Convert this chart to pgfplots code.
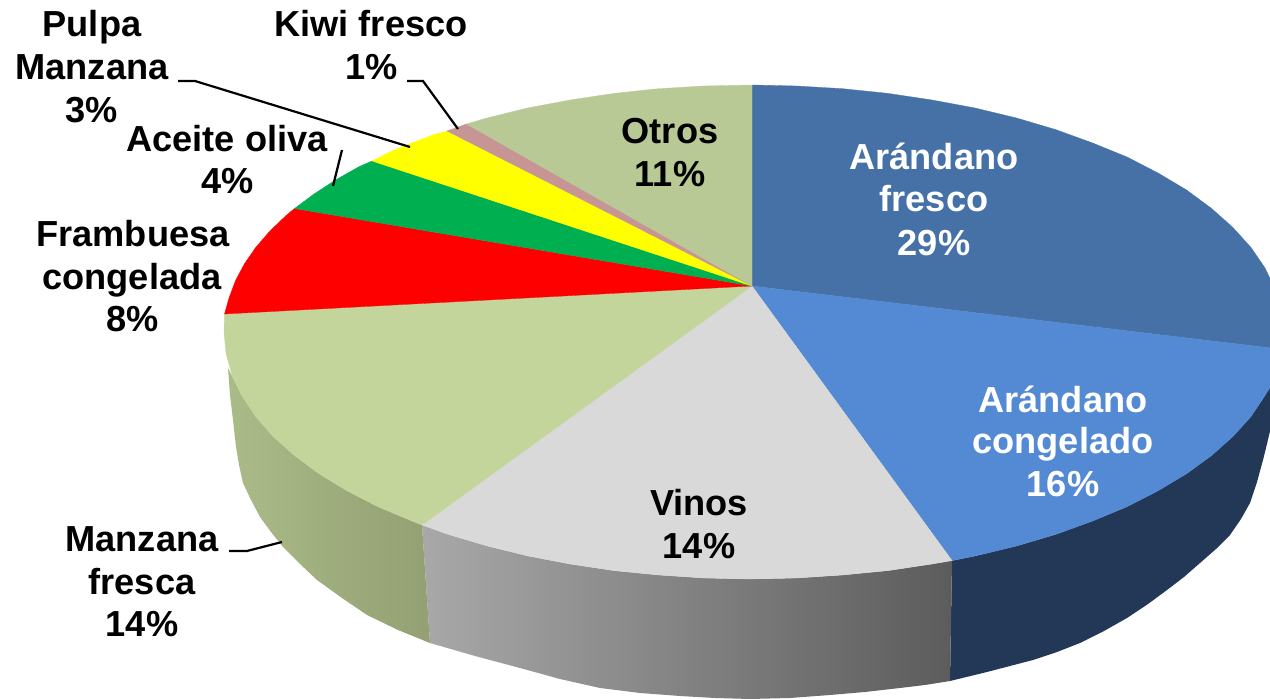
\documentclass[border=0pt]{standalone}
\usepackage{pgfplots}
\pgfplotsset{compat=1.18}
\usepackage{fontspec}
\setmainfont{Liberation Sans}
\definecolor{cFresco}{HTML}{4571A6}
\definecolor{cCong}{HTML}{538AD3}
\definecolor{cOtros}{HTML}{B9C995}
\definecolor{cManz}{HTML}{C3D59B}
\definecolor{cKiwi}{HTML}{C89595}
\definecolor{cGreen}{HTML}{00B050}
\definecolor{cVinos}{HTML}{D9D9D9}
\definecolor{cNavy}{HTML}{233857}
\definecolor{cSideA}{HTML}{ABBB88}
\definecolor{cSideB}{HTML}{93A073}
\definecolor{cYellow}{HTML}{FFFF00}
\definecolor{cRed}{HTML}{FF0000}
\newcommand{\lab}[4]{\node[anchor=base,inner sep=0pt,text=#4,font=\fontsize{18.1}{20}\selectfont\bfseries] at (axis cs:#1,#2) {#3};}
\begin{document}
\begin{tikzpicture}
\begin{axis}[
  scale only axis, width=635pt, height=349.5pt,
  xmin=0, xmax=1270, ymin=0, ymax=699, y dir=reverse,
  hide axis, no markers, clip mode=individual,
]
\path (axis cs:0,0) rectangle (axis cs:1270,699);
% sides
\addplot[draw=none,fill=cNavy] coordinates {(1271,386)(1262,400)(1251,416.5)(1233,436.4)(1211.6,455.5)(1186.6,473.7)(1158,490.8)(1127,506.7)(1092.6,521)(1056,534.3)(1016.5,546)(975,556)(952,560.6)(950,681)(987,672)(1010,666)(1033,660)(1057,652)(1080,643)(1104,631)(1127,618)(1148,604)(1167,590)(1184,577)(1200,563)(1216,549)(1230,535)(1241,519)(1250,503)(1257,482)(1263,460)(1266,448)(1271,427)} --cycle;
\addplot[draw=none,left color=black!34,right color=black!64] coordinates {(422,525)(448,534.3)(487,545.9)(527.7,555.9)(570,564)(614,570.6)(658.7,575)(704,578)(750,579)(796.5,578)(842.5,575)(888,570.6)(932,564)(952,560.6)(950,681)(925,685)(900,688)(865,692)(830,695)(790,698)(750,699)(715,698)(680,696)(640,693)(600,688)(560,679)(520,668)(475,656)(430,643)} --cycle;
\addplot[draw=none,left color=cSideA,right color=cSideB] coordinates {(228,368)(242,396)(255.7,416.5)(273,436.4)(294.5,455.5)(319,473.7)(347,490.8)(378,506.7)(412,521)(422,525)(430,643)(398,630)(367,615)(342,598)(317,580)(300,564)(283,547)(271,532)(260,517)(251,500)(243,483)(239,465)(236,447)(233,420)(230,395)} --cycle;
% top wedges
\addplot[draw=cFresco,fill=cFresco,line width=0.15pt] coordinates {(752,286)(752,85)(796.5,86)(842.5,88.7)(888,93.4)(932,100)(975,108)(1016.5,118)(1056,129.7)(1092.6,143)(1127,157)(1158,173)(1186.6,190)(1211.6,208.5)(1233,227.6)(1251,247.5)(1265,268)(1271,280.6)(1271,348)} --cycle;
\addplot[draw=cCong,fill=cCong,line width=0.15pt] coordinates {(752,286)(1271,348)(1271,386)(1262,400)(1251,416.5)(1233,436.4)(1211.6,455.5)(1186.6,473.7)(1158,490.8)(1127,506.7)(1092.6,521)(1056,534.3)(1016.5,546)(975,556)(952,560.6)} --cycle;
\addplot[draw=cVinos,fill=cVinos,line width=0.15pt] coordinates {(752,286)(952,560.6)(932,564)(888,570.6)(842.5,575)(796.5,578)(750,579)(704,578)(658.7,575)(614,570.6)(570,564)(527.7,555.9)(487,545.9)(448,534.3)(422,525)} --cycle;
\addplot[draw=cManz,fill=cManz,line width=0.15pt] coordinates {(752,286)(422,525)(412,521)(378,506.7)(347,490.8)(319,473.7)(294.5,455.5)(273,436.4)(255.7,416.5)(242,396)(232,375)(226,353.5)(224,332)(224.5,314)} --cycle;
\addplot[draw=cRed,fill=cRed,line width=0.15pt] coordinates {(752,286)(224.5,314)(229,298)(235.5,280.6)(244.4,263.9)(255.7,247.5)(269.5,231.5)(285.6,216)(294.5,208.5)} --cycle;
\addplot[draw=cGreen,fill=cGreen,line width=0.15pt] coordinates {(752,286)(294.5,208.5)(314,194)(335.5,180)(359,166.7)(372,161)} --cycle;
\addplot[draw=cYellow,fill=cYellow,line width=0.15pt] coordinates {(752,286)(372,161)(391,151.4)(412,143)(433.5,134.7)(447,131)} --cycle;
\addplot[draw=cKiwi,fill=cKiwi,line width=0.15pt] coordinates {(752,286)(447,131)(466.5,124)} --cycle;
\addplot[draw=cOtros,fill=cOtros,line width=0.15pt] coordinates {(752,286)(466.5,124)(487,118)(527.5,108)(570,100)(614,93.4)(658.5,88.7)(704,86)(752,85)} --cycle;
% leader lines
\addplot[black,line width=1.1pt] coordinates {(178,81)(195,81)(410,147)};
\addplot[black,line width=1.1pt] coordinates {(407,81)(423,81)(458,129)};
\addplot[black,line width=1.1pt] coordinates {(342,150)(333,186)};
\addplot[black,line width=1.1pt] coordinates {(229,551)(247,551)(282,542)};
% labels
\lab{92}{37}{Pulpa}{black}
\lab{92}{80}{Manzana}{black}
\lab{92}{123}{3\%}{black}
\lab{371}{37}{Kiwi fresco}{black}
\lab{372}{80}{1\%}{black}
\lab{227}{152}{Aceite oliva}{black}
\lab{228}{194}{4\%}{black}
\lab{133}{247}{Frambuesa}{black}
\lab{132}{290}{congelada}{black}
\lab{133}{332}{8\%}{black}
\lab{934}{170}{Arándano}{white}
\lab{934}{212}{fresco}{white}
\lab{934}{256}{29\%}{white}
\lab{670}{144}{Otros}{black}
\lab{670}{187}{11\%}{black}
\lab{1063}{413}{Arándano}{white}
\lab{1063}{454}{congelado}{white}
\lab{1063}{497}{16\%}{white}
\lab{699}{516}{Vinos}{black}
\lab{699}{559}{14\%}{black}
\lab{142}{552}{Manzana}{black}
\lab{142}{595}{fresca}{black}
\lab{142}{637}{14\%}{black}
\end{axis}
\end{tikzpicture}
\end{document}
